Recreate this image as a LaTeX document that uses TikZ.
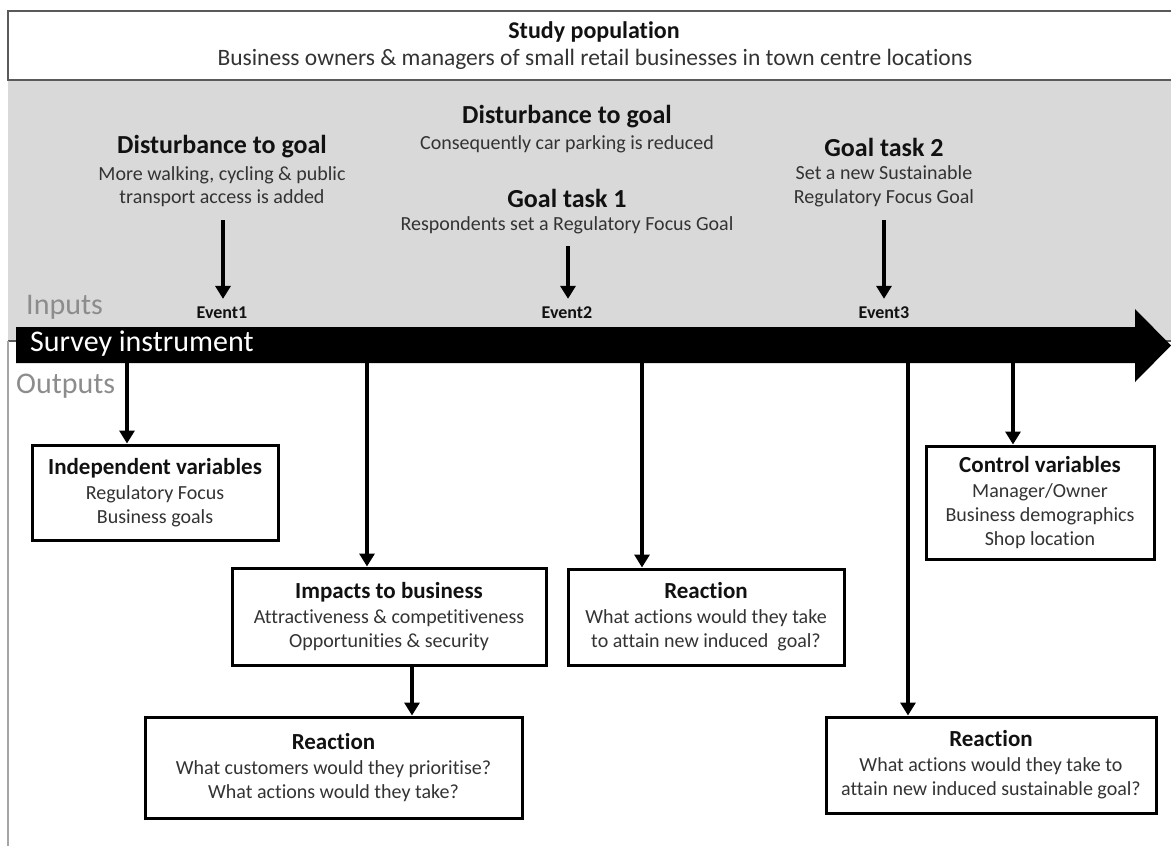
\documentclass[tikz,border=0pt]{standalone}
\usepackage{fontspec}
\setmainfont{Carlito}[Ligatures=NoCommon]
\usetikzlibrary{arrows.meta}
\definecolor{panelgray}{HTML}{D9D9D9}
\definecolor{framegray}{HTML}{5A5A5A}
\definecolor{sidegray}{HTML}{8C8C8C}
\definecolor{railgray}{HTML}{A6A6A6}
\definecolor{bodytext}{HTML}{333333}
\definecolor{headtext}{HTML}{111111}
\newcommand{\bxhead}[1]{{\fontsize{23}{24}\selectfont\bfseries\color{headtext}#1}\\[1pt]}

\begin{document}
\begin{tikzpicture}[x=1pt,y=-1pt,
  conn/.style={line width=3.5pt,-{Triangle[width=15pt,length=13pt]}},
  head/.style={font=\fontsize{26}{30}\selectfont\bfseries, text=headtext, inner sep=0pt},
  body/.style={font=\fontsize{20}{23.5}\selectfont, text=bodytext, inner sep=0pt, align=center},
  toptext/.style={inner sep=0pt, text=headtext},
  eventlbl/.style={font=\fontsize{18}{20}\selectfont\bfseries, text=headtext, inner sep=0pt},
  sidelbl/.style={font=\fontsize{30}{34}\selectfont, text=sidegray, inner sep=0pt, anchor=west},
  outbox/.style={draw=black, line width=3pt, align=center, fill=white,
    font=\fontsize{20}{24}\selectfont, text=bodytext, inner sep=0pt}
]
\useasboundingbox (0,0) rectangle (1171,846);

% study population band and input panel
\fill[panelgray] (8,80) rectangle (1175,341);
\draw[framegray, line width=2pt] (1175,11) -- (8,11) -- (8,80) -- (1175,80);
\draw[framegray, line width=1.2pt] (8,341) -- (1171,341);
\draw[railgray, line width=1.5pt] (8,341) -- (8,846);

\node[toptext, font=\fontsize{24}{26}\selectfont\bfseries] (studyhead) at (594,32) {Study population};
\node[toptext, font=\fontsize{23.5}{26}\selectfont, text=bodytext] (studybody) at (595,59)
  {Business owners \& managers of small retail businesses in town centre locations};

% inputs
\node[head] (h1) at (222,147) {Disturbance to goal};
\node[body] (b1) at (222,186.5) {More walking, cycling \& public\\transport access is added};

\node[head] (h2) at (567,117) {Disturbance to goal};
\node[body] (b2) at (567,144) {Consequently car parking is reduced};
\node[head] (h3) at (567,198) {Goal task 1};
\node[body] (b3) at (567,225) {Respondents set a Regulatory Focus Goal};

\node[head] (h4) at (884,147) {Goal task 2};
\node[body] (b4) at (884,186.5) {Set a new Sustainable\\Regulatory Focus Goal};

\node[eventlbl] (ev1) at (222,313) {Event1};
\node[eventlbl] (ev2) at (567,313) {Event2};
\node[eventlbl] (ev3) at (884,313) {Event3};

\coordinate (in1) at (223,220);
\coordinate (in2) at (568,246);
\coordinate (in3) at (884,220);
\draw[conn, shorten >=8pt] (in1) -- (in1 |- ev1.north);
\draw[conn, shorten >=8pt] (in2) -- (in2 |- ev2.north);
\draw[conn, shorten >=8pt] (in3) -- (in3 |- ev3.north);

% survey instrument timeline
\fill[black] (16,327) -- (1135,327) -- (1135,309) -- (1171,345.5) -- (1135,382)
  -- (1135,363) -- (16,363) -- cycle;
\node[inner sep=0pt, anchor=west, text=white, font=\fontsize{30}{34}\selectfont] (survey) at (30,344) {Survey instrument};
\node[sidelbl] (inputs) at (26,307) {Inputs};
\node[sidelbl] (outputs) at (16,386) {Outputs};

% outputs
\node[outbox, minimum width=246pt, minimum height=95pt] (iv) at (155,492.5)
  {\bxhead{Independent variables}Regulatory Focus\\Business goals};
\node[outbox, minimum width=314pt, minimum height=97pt] (imp) at (389,616.5)
  {\bxhead{Impacts to business}Attractiveness \& competitiveness\\Opportunities \& security};
\node[outbox, minimum width=377pt, minimum height=101pt] (rea1) at (333.5,767.5)
  {\bxhead{Reaction}What customers would they prioritise?\\What actions would they take?};
\node[outbox, minimum width=276pt, minimum height=96pt] (rea2) at (706,617)
  {\bxhead{Reaction}What actions would they take\\to attain new induced\ \ goal?};
\node[outbox, minimum width=330pt, minimum height=96pt] (rea3) at (991,765)
  {\bxhead{Reaction}What actions would they take to\\attain new induced sustainable goal?};
\node[outbox, minimum width=228pt, minimum height=113pt] (ctrl) at (1040,502.5)
  {\bxhead{Control variables}Manager/Owner\\Business demographics\\Shop location};

\coordinate (o1) at (127,363);
\coordinate (o2) at (367,363);
\coordinate (o3) at (642,363);
\coordinate (o4) at (908,363);
\coordinate (o5) at (1013,363);
\coordinate (d1) at (412,0);
\draw[conn] (o1) -- (o1 |- iv.north);
\draw[conn] (o2) -- (o2 |- imp.north);
\draw[conn] (o3) -- (o3 |- rea2.north);
\draw[conn] (o4) -- (o4 |- rea3.north);
\draw[conn] (o5) -- (o5 |- ctrl.north);
\draw[conn] (d1 |- imp.south) -- (d1 |- rea1.north);
\end{tikzpicture}
\end{document}
